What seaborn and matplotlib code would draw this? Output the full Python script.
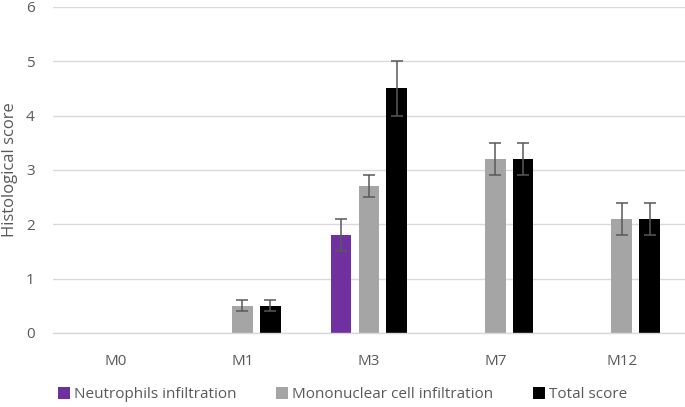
import numpy as np
import pandas as pd
import matplotlib
matplotlib.use("Agg")
import matplotlib.pyplot as plt
import seaborn as sns

# ── Data ────────────────────────────────────────────────────────────────
months = ["M0", "M1", "M3", "M7", "M12"]
series = ["Neutrophils infiltration", "Mononuclear cell infiltration", "Total score"]

neutrophils = [0, 0, 1.8, 0, 0]
mononuclear = [0, 0.5, 2.7, 3.2, 2.1]
total_score = [0, 0.5, 4.5, 3.2, 2.1]

neutrophils_err = [0, 0, 0.3, 0, 0]
mononuclear_err = [0, 0.1, 0.2, 0.3, 0.3]
total_score_err = [0, 0.1, 0.5, 0.3, 0.3]

COLOURS = ["#7030A0", "#A5A5A5", "#000000"]
TEXT = "#595959"

values = [neutrophils, mononuclear, total_score]
errors = [neutrophils_err, mononuclear_err, total_score_err]

rows = []
for name, vals in zip(series, values):
    for m, v in zip(months, vals):
        rows.append({"month": m, "series": name, "score": v})
df = pd.DataFrame(rows)

# ── Plot ────────────────────────────────────────────────────────────────
sns.set_style("white")
plt.rcParams["font.family"] = ["Open Sans", "DejaVu Sans"]

fig = plt.figure(figsize=(6.85, 4.07), dpi=100)
ax = fig.add_axes([0.077, 0.182, 0.923, 0.801])

sns.barplot(
    data=df, x="month", y="score", hue="series",
    order=months, hue_order=series, palette=COLOURS,
    width=0.66, gap=0.26, errorbar=None, linewidth=0,
    saturation=1, ax=ax, legend=True,
)

# error bars on each visible bar
for container, errs in zip(ax.containers, errors):
    for patch, e in zip(container.patches, errs):
        h = patch.get_height()
        if h <= 0 or e <= 0:
            continue
        xc = patch.get_x() + patch.get_width() / 2
        ax.errorbar(xc, h, yerr=e, fmt="none", ecolor=TEXT,
                    elinewidth=1.1, capsize=4, capthick=1.1, zorder=5)

ax.set_ylim(0, 6)
ax.set_yticks(range(0, 7))
ax.set_xlim(-0.5, len(months) - 0.5)
ax.yaxis.grid(True, color="#D9D9D9", linewidth=1)
ax.set_axisbelow(True)
for side in ["top", "right", "left"]:
    ax.spines[side].set_visible(False)
ax.spines["bottom"].set_color("#D9D9D9")
ax.spines["bottom"].set_linewidth(1)

ax.tick_params(axis="both", length=0, labelsize=11, labelcolor=TEXT)
ax.tick_params(axis="y", pad=13)
ax.tick_params(axis="x", pad=15)
ax.set_xlabel("")
ax.set_ylabel("Histological score", fontsize=12, color=TEXT, labelpad=6)

handles, labels = ax.get_legend_handles_labels()
ax.legend_.remove()
fig.legend(handles, labels, loc="center", bbox_to_anchor=(0.5, 0.03),
           ncol=3, frameon=False, fontsize=11, labelcolor=TEXT,
           handlelength=0.8, handleheight=0.8, handletextpad=0.25,
           columnspacing=2.6)

fig.savefig("out.png", dpi=100)
